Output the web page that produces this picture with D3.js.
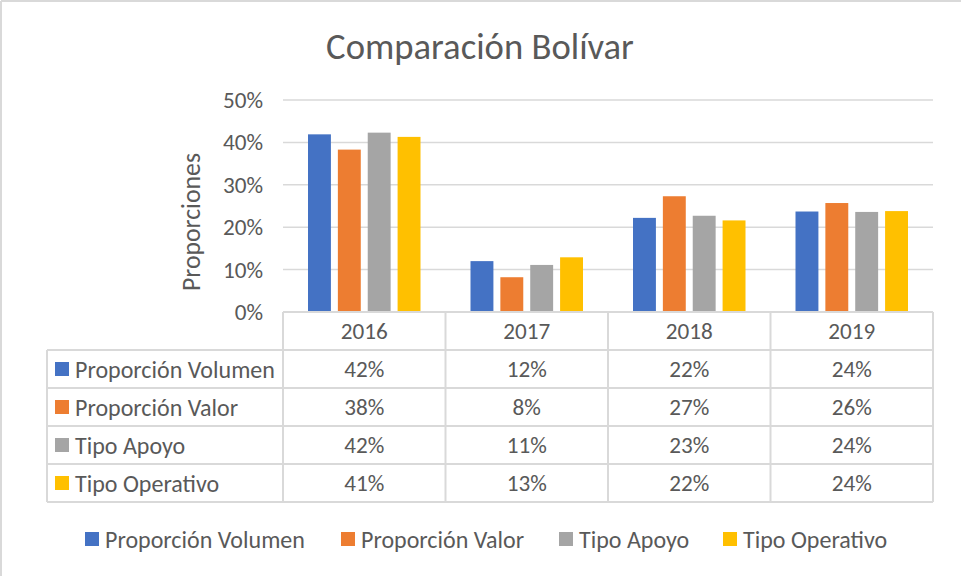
<!DOCTYPE html>
<html>
<head>
<meta charset="utf-8">
<script src="https://cdn.jsdelivr.net/npm/d3@7"></script>
<style>
  html, body { margin: 0; padding: 0; background: #fff; }
  svg { display: block; }
  text { font-family: Carlito, Lato, "Open Sans", sans-serif; fill: #595959; }
</style>
</head>
<body>
<div id="chart"></div>
<script>
const TITLE = 'Comparación Bolívar';
const Y_TITLE = 'Proporciones';
const YEARS = ['2016', '2017', '2018', '2019'];
const SERIES = ['Proporción Volumen', 'Proporción Valor', 'Tipo Apoyo', 'Tipo Operativo'];
const COLORS = ['#4472C4', '#ED7D31', '#A5A5A5', '#FFC000'];
const Y_TICKS = [0, 0.1, 0.2, 0.3, 0.4, 0.5];
// one array per series, values by year
const VOLUMEN = [0.419, 0.120, 0.222, 0.237];
const VALOR = [0.383, 0.082, 0.273, 0.257];
const APOYO = [0.423, 0.111, 0.227, 0.236];
const OPERATIVO = [0.413, 0.129, 0.216, 0.238];
const VALUES = [VOLUMEN, VALOR, APOYO, OPERATIVO];

const W = 961, H = 576;
const m = { l: 283, r: 933, t: 100, b: 312 };
const GRID = '#d9d9d9';
const fmt = d3.format('.0%');

const svg = d3.select('#chart').append('svg').attr('width', W).attr('height', H);

// fit a font size so a sample string reaches a target width
function fitSize(sample, target, guess) {
  const t = svg.append('text').attr('font-size', guess).text(sample);
  const w = t.node().getComputedTextLength();
  t.remove();
  return guess * target / w;
}
const fsBody = fitSize('Proporción Volumen', 200, 22);
const fsNum = fitSize('2016', 47, 22);
const fsAxisTitle = fitSize(Y_TITLE, 138, 22);
const fsTitle = fitSize(TITLE, 308, 30);

// chart frame (top and left edges visible in reference)
svg.append('line').attr('x1', 1).attr('x2', W).attr('y1', 1).attr('y2', 1).attr('stroke', GRID).attr('stroke-width', 2);
svg.append('line').attr('x1', 1).attr('x2', 1).attr('y1', 1).attr('y2', H).attr('stroke', GRID).attr('stroke-width', 2);

svg.append('text').attr('x', 480).attr('y', 46).attr('text-anchor', 'middle')
  .attr('dominant-baseline', 'central').attr('font-size', fsTitle).text(TITLE);

const x = d3.scaleBand().domain(YEARS).range([m.l, m.r]);
const xs = d3.scaleBand().domain(SERIES).range([25, x.bandwidth() - 25]).paddingInner(0.233);
const y = d3.scaleLinear().domain([0, 0.5]).range([m.b, m.t]);

// gridlines
svg.append('g').selectAll('line').data(Y_TICKS.slice(1)).join('line')
  .attr('x1', m.l).attr('x2', m.r).attr('y1', d => y(d)).attr('y2', d => y(d))
  .attr('stroke', GRID).attr('stroke-width', 1.5);

// y axis labels
const yAxis = svg.append('g').attr('transform', `translate(${m.l - 20},0)`)
  .call(d3.axisLeft(y).tickValues(Y_TICKS).tickFormat(fmt).tickSize(0).tickPadding(0));
yAxis.select('.domain').remove();
yAxis.selectAll('text').attr('font-size', fsNum).attr('fill', '#595959').style('font-family', null);

svg.append('text').attr('transform', 'translate(191,222) rotate(-90)').attr('text-anchor', 'middle')
  .attr('dominant-baseline', 'central').attr('font-size', fsAxisTitle).text(Y_TITLE);

// bars
svg.append('g').selectAll('g').data(VALUES).join('g')
  .attr('fill', (d, i) => COLORS[i])
  .selectAll('rect').data((vals, i) => vals.map((v, j) => ({ v, year: YEARS[j], s: SERIES[i] }))).join('rect')
  .attr('x', d => x(d.year) + xs(d.s)).attr('width', xs.bandwidth())
  .attr('y', d => y(d.v)).attr('height', d => y(0) - y(d.v));

// data table
const rowH = 38, tableL = 47, headTop = m.b, bodyTop = 350;
const rowY = i => bodyTop + i * rowH;
const tg = svg.append('g');
const lines = [[m.l, headTop, m.r, headTop]];
for (let i = 0; i <= SERIES.length; i++) lines.push([tableL, rowY(i), m.r, rowY(i)]);
YEARS.map(yr => x(yr)).concat([m.r]).forEach(cx => lines.push([cx, headTop, cx, rowY(SERIES.length)]));
lines.push([tableL, bodyTop, tableL, rowY(SERIES.length)]);
tg.selectAll('line').data(lines).join('line')
  .attr('x1', d => d[0]).attr('y1', d => d[1]).attr('x2', d => d[2]).attr('y2', d => d[3])
  .attr('stroke', GRID).attr('stroke-width', 2);

tg.selectAll('text.yr').data(YEARS).join('text').attr('class', 'yr')
  .attr('x', d => x(d) + x.bandwidth() / 2).attr('y', (headTop + bodyTop) / 2)
  .attr('text-anchor', 'middle').attr('dominant-baseline', 'central').attr('font-size', fsNum).text(d => d);

const rows = tg.selectAll('g.row').data(SERIES).join('g').attr('class', 'row')
  .attr('transform', (d, i) => `translate(0,${rowY(i) + rowH / 2})`);
rows.append('rect').attr('x', 55).attr('y', -7).attr('width', 14).attr('height', 14)
  .attr('fill', (d, i) => COLORS[i]);
rows.append('text').attr('x', 75).attr('y', 0).attr('dominant-baseline', 'central')
  .attr('font-size', fsBody).text(d => d);
rows.selectAll('text.val').data((s, i) => VALUES[i].map((v, j) => ({ v, year: YEARS[j] }))).join('text')
  .attr('class', 'val').attr('x', d => x(d.year) + x.bandwidth() / 2).attr('y', 0)
  .attr('text-anchor', 'middle').attr('dominant-baseline', 'central').attr('font-size', fsNum)
  .text(d => fmt(d.v));

// legend
const LEG_X = [85, 341, 559, 723];
const leg = svg.append('g').selectAll('g').data(SERIES).join('g')
  .attr('transform', (d, i) => `translate(${LEG_X[i]},539)`);
leg.append('rect').attr('x', 0).attr('y', -7).attr('width', 14).attr('height', 14).attr('fill', (d, i) => COLORS[i]);
leg.append('text').attr('x', 20).attr('y', 0).attr('dominant-baseline', 'central')
  .attr('font-size', fsBody).text(d => d);
</script>
</body>
</html>
